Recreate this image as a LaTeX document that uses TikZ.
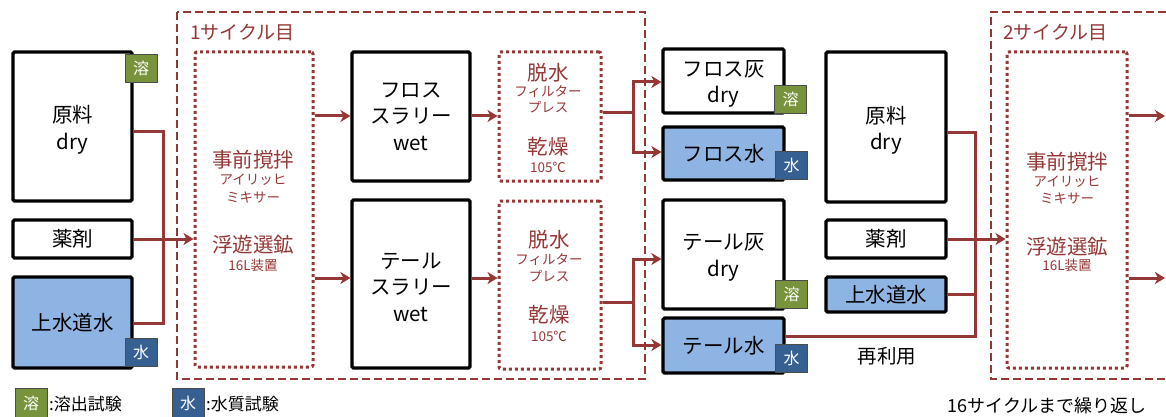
\documentclass[tikz,border=0pt]{standalone}
\usepackage{fontspec}
\setmainfont{Noto Sans CJK JP}
\usetikzlibrary{arrows.meta}
\definecolor{myred}{RGB}{149,55,53}
\definecolor{mygreen}{RGB}{119,147,60}
\definecolor{mybadge}{RGB}{54,96,146}
\definecolor{mylight}{RGB}{141,180,226}
\newcommand{\fs}[2]{\fontsize{#1}{#2}\selectfont}
\tikzset{
  blackbox/.style={draw=black,line width=3.2pt,rounded corners=1.5pt,inner sep=0pt,align=center,font=\fs{20.5}{26.5}},
  waterbox/.style={blackbox,fill=mylight},
  dotbox/.style={draw=myred,line width=3pt,dash pattern=on 3pt off 3pt,rounded corners=2pt,inner sep=0pt},
  frame/.style={draw=myred,line width=1.1pt,dash pattern=on 8pt off 4pt},
  badge/.style={draw=black!70,line width=0.6pt,text=white,inner sep=0pt,minimum width=32pt,minimum height=28pt,font=\fs{16}{18}},
  gbadge/.style={badge,fill=mygreen},
  bbadge/.style={badge,fill=mybadge},
  redbig/.style={text=myred,inner sep=0pt,font=\fs{20.5}{22}},
  redsmall/.style={text=myred,inner sep=0pt,font=\fs{13.5}{14}},
  conn/.style={draw=myred,line width=3pt},
  arr/.style={conn,-{Stealth[length=10pt,width=12pt,inset=3pt]}},
  plain/.style={inner sep=0pt},
}
\begin{document}
\begin{tikzpicture}[x=1pt,y=-1pt]
\useasboundingbox (0,0) rectangle (1166,417);
% frames
\draw[frame] (177,12) rectangle (645,379);
\draw[frame] (1166,12) -- (991,12) -- (991,379) -- (1166,379);
\node[redbig,anchor=west,font=\fs{19}{22}] (cyc1) at (190,33) {1サイクル目};
\node[redbig,anchor=west,font=\fs{19}{22}] (cyc2) at (1003,33) {2サイクル目};

% left inputs
\node[blackbox,minimum width=119pt,minimum height=149pt] (genryo1) at (72.5,126.5) {\rule{0pt}{24pt}原料\\dry};
\node[blackbox,minimum width=119pt,minimum height=38pt] (yakuzai1) at (72.5,239) {薬剤};
\node[waterbox,minimum width=119pt,minimum height=91pt] (jousui1) at (72.5,322.5) {上水道水};
\node[gbadge] (b1) at (141,68) {溶};
\node[bbadge] (b2) at (141,352) {水};

% mix 1
\node[dotbox,minimum width=118pt,minimum height=315pt] (mix1) at (254,209.5) {};
\node[redbig] (m1a) at (253,160) {事前撹拌};
\node[redsmall] (m1b) at (253,180) {アイリッヒ};
\node[redsmall] (m1c) at (253,197) {ミキサー};
\node[redbig] (m1d) at (253,245) {浮遊選鉱};
\node[redsmall] (m1e) at (253,265) {16L装置};

% slurries
\node[blackbox,minimum width=118pt,minimum height=129pt] (fslurry) at (411,116.5) {フロス\\スラリー\\wet};
\node[blackbox,minimum width=118pt,minimum height=168pt] (tslurry) at (411,284) {\rule{0pt}{22pt}テール\\スラリー\\wet};

% dewater/dry
\node[dotbox,minimum width=102pt,minimum height=129pt] (dry1) at (550,116.5) {};
\node[redbig] (d1a) at (548,73) {脱水};
\node[redsmall] (d1b) at (548,92) {フィルター};
\node[redsmall] (d1c) at (548,107) {プレス};
\node[redbig] (d1d) at (548,147) {乾燥};
\node[redsmall] (d1e) at (548,167) {105℃};
\node[dotbox,minimum width=102pt,minimum height=168pt] (dry2) at (550,285) {};
\node[redbig] (d2a) at (549,240) {脱水};
\node[redsmall] (d2b) at (549,260) {フィルター};
\node[redsmall] (d2c) at (549,276) {プレス};
\node[redbig] (d2d) at (549,315) {乾燥};
\node[redsmall] (d2e) at (549,336) {105℃};

% products
\node[blackbox,minimum width=121pt,minimum height=64pt] (froshai) at (723.5,81) {\rule{0pt}{22pt}フロス灰\\dry};
\node[waterbox,minimum width=121pt,minimum height=53pt] (frosmizu) at (723.5,153.5) {フロス水};
\node[blackbox,minimum width=121pt,minimum height=109pt] (teiruhai) at (723.5,254.5) {\rule{0pt}{22pt}テール灰\\dry};
\node[waterbox,minimum width=121pt,minimum height=55pt] (teirumizu) at (723.5,345.5) {テール水};
\node[gbadge] (b3) at (790.5,99) {溶};
\node[bbadge] (b4) at (791.5,165) {水};
\node[gbadge] (b5) at (791.5,294.5) {溶};
\node[bbadge] (b6) at (791.5,358) {水};

% cycle 2 inputs
\node[blackbox,minimum width=120pt,minimum height=150pt] (genryo2) at (886,127) {\rule{0pt}{24pt}原料\\dry};
\node[blackbox,minimum width=120pt,minimum height=38pt] (yakuzai2) at (886,239) {薬剤};
\node[waterbox,minimum width=120pt,minimum height=35pt] (jousui2) at (886,294.5) {上水道水};
\node[plain,font=\fs{19.5}{22}] (reuse) at (887,356) {再利用};

% mix 2
\node[dotbox,minimum width=120pt,minimum height=316pt] (mix2) at (1067,210) {};
\node[redbig] (m2a) at (1067,162) {事前撹拌};
\node[redsmall] (m2b) at (1067,182) {アイリッヒ};
\node[redsmall] (m2c) at (1067,198) {ミキサー};
\node[redbig] (m2d) at (1067,247) {浮遊選鉱};
\node[redsmall] (m2e) at (1067,265) {16L装置};
\coordinate (out1) at (1165,116);
\coordinate (out2) at (1165,278);

% legend
\node[gbadge,minimum height=29pt] (lg) at (31,403) {溶};
\node[plain,anchor=west,font=\fs{17}{20}] (lgt) at (49,404) {:溶出試験};
\node[bbadge,minimum height=29pt] (lb) at (188,403) {水};
\node[plain,anchor=west,font=\fs{17}{20}] (lbt) at (206,404) {:水質試験};
\node[plain,font=\fs{18}{22}] (repeat) at (1047,406) {16サイクルまで繰り返し};

% connectors cycle 1
\draw[conn] (genryo1.east |- 0,131) -| (163,323) -- (jousui1.east |- 0,323);
\draw[arr] (yakuzai1.east |- 0,239) -- (mix1.west |- 0,239);
\draw[arr] (mix1.east |- 0,116) -- (fslurry.west |- 0,116);
\draw[arr] (mix1.east |- 0,278) -- (tslurry.west |- 0,278);
\draw[arr] (fslurry.east |- 0,116) -- (dry1.west |- 0,116);
\draw[arr] (tslurry.east |- 0,278) -- (dry2.west |- 0,278);
\draw[arr] (dry1.east |- 0,113) -| (633,82) -- (froshai.west |- 0,82);
\draw[arr] (dry1.east |- 0,113) -| (633,152) -- (frosmizu.west |- 0,152);
\draw[arr] (dry2.east |- 0,302) -| (633,259) -- (teiruhai.west |- 0,259);
\draw[arr] (dry2.east |- 0,302) -| (633,345) -- (teirumizu.west |- 0,345);

% connectors cycle 2
\draw[conn] (genryo2.east |- 0,132) -| (975,336) -- (teirumizu.east |- 0,336);
\draw[conn] (jousui2.east |- 0,294) -- (975,294);
\draw[arr] (yakuzai2.east |- 0,239) -- (mix2.west |- 0,239);
\draw[arr] (mix2.east |- 0,116) -- (out1);
\draw[arr] (mix2.east |- 0,278) -- (out2);
\end{tikzpicture}
\end{document}
